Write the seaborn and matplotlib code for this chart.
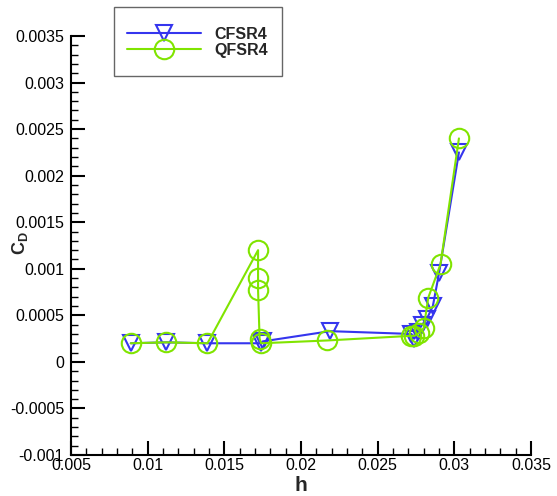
import numpy as np
import pandas as pd
import matplotlib
matplotlib.use("Agg")
import matplotlib.pyplot as plt
import matplotlib.patches as mpatches
import seaborn as sns
from matplotlib.ticker import MultipleLocator, FuncFormatter

sns.set_style("white")
plt.rcParams['font.family'] = ['Liberation Sans', 'DejaVu Sans']
plt.rcParams['mathtext.fontset'] = 'custom'
plt.rcParams['mathtext.bf'] = 'Liberation Sans:bold'
plt.rcParams['mathtext.rm'] = 'Liberation Sans'

# CFSR4 series
cfsr4_h = [0.0089, 0.0112, 0.0139, 0.0174, 0.0175, 0.0219, 0.0272, 0.0274,
           0.0276, 0.0279, 0.0282, 0.0286, 0.0290, 0.0303]
cfsr4_cd = [0.00020, 0.00021, 0.00020, 0.00020, 0.00022, 0.00033, 0.00030, 0.00025,
            0.00032, 0.00040, 0.00046, 0.00060, 0.00095, 0.00225]

# QFSR4 series
qfsr4_h = [0.0089, 0.0112, 0.0139, 0.0172, 0.0172, 0.0172, 0.0173, 0.0174,
           0.0217, 0.0272, 0.0274, 0.0277, 0.0280, 0.0283, 0.0291, 0.0303]
qfsr4_cd = [0.00020, 0.00021, 0.00020, 0.00120, 0.00090, 0.00077, 0.00025, 0.00020,
            0.00023, 0.00028, 0.00028, 0.00031, 0.00036, 0.00069, 0.00105, 0.00240]

series_names = ["CFSR4", "QFSR4"]

blue = '#3535ee'
green = '#80e400'

W, H = 557, 496
fig = plt.figure(figsize=(W / 100, H / 100), dpi=100)
ax = fig.add_axes([71 / W, 1 - 455 / H, 460 / W, 419 / H])

df_c = pd.DataFrame({"h": cfsr4_h, "cd": cfsr4_cd})
df_q = pd.DataFrame({"h": qfsr4_h, "cd": qfsr4_cd})

sns.lineplot(data=df_c, x="h", y="cd", sort=False, estimator=None, ax=ax,
             color=blue, lw=1.5, marker='v', markersize=11,
             markerfacecolor='none', markeredgecolor=blue, markeredgewidth=1.5,
             label=series_names[0])
sns.lineplot(data=df_q, x="h", y="cd", sort=False, estimator=None, ax=ax,
             color=green, lw=1.5, marker='o', markersize=14,
             markerfacecolor='none', markeredgecolor=green, markeredgewidth=1.5,
             label=series_names[1])

ax.set_xlim(0.005, 0.035)
ax.set_ylim(-0.001, 0.0035)
ax.xaxis.set_major_locator(MultipleLocator(0.005))
ax.xaxis.set_minor_locator(MultipleLocator(0.001))
ax.yaxis.set_major_locator(MultipleLocator(0.0005))
ax.yaxis.set_minor_locator(MultipleLocator(0.0001))
fmt = FuncFormatter(lambda v, p: '%g' % round(v, 6))
ax.xaxis.set_major_formatter(fmt)
ax.yaxis.set_major_formatter(fmt)

for s in ['top', 'right']:
    ax.spines[s].set_visible(False)
for s in ['left', 'bottom']:
    ax.spines[s].set_color('black')
    ax.spines[s].set_linewidth(1.5)

ax.tick_params(which='major', direction='in', length=10, width=1.5, colors='black',
               labelsize=11.5, left=True, bottom=True)
ax.tick_params(which='minor', direction='in', length=5, width=1, colors='black',
               left=True, bottom=True)
ax.tick_params(axis='y', which='major', pad=5)
ax.tick_params(axis='x', which='major', pad=2)

ax.set_xlabel('h', fontsize=15, fontweight='bold')
ax.xaxis.set_label_coords(0.5, -(476 - 455) / 419)
ax.set_ylabel(r'$\mathbf{C}_\mathbf{D}$', fontsize=13)
ax.yaxis.set_label_coords(-(71 - 30) / 460, (455 - 243) / 419)

leg = ax.legend(loc='upper left', bbox_to_anchor=(127 / W, 1 - 27 / H),
                bbox_transform=fig.transFigure, borderaxespad=0, borderpad=0,
                frameon=False, prop={'weight': 'bold', 'size': 11.5},
                handlelength=4.63, labelspacing=0.05, handletextpad=0.85,
                numpoints=1)

frame = mpatches.Rectangle((114 / W, 1 - 76 / H), 168 / W, 69 / H,
                           transform=fig.transFigure, fill=False,
                           edgecolor='#666666', linewidth=1.0)
fig.patches.append(frame)

fig.savefig('out.png', dpi=100)
